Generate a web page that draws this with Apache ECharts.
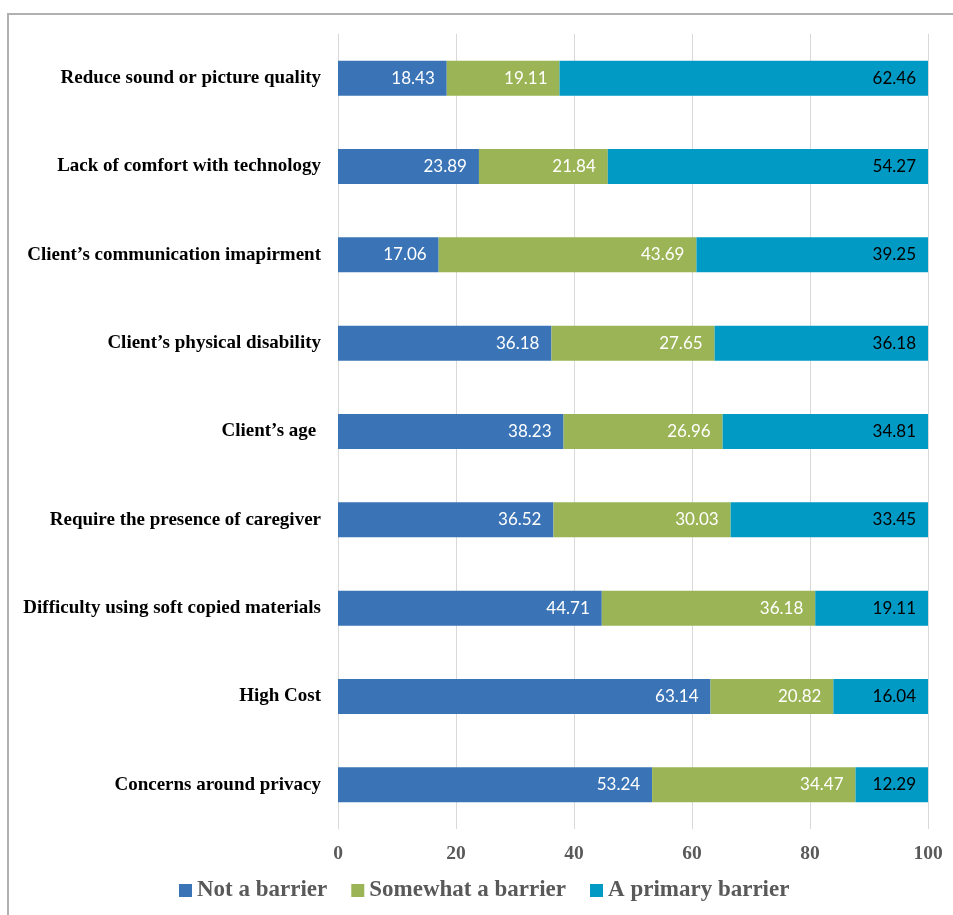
<!DOCTYPE html>
<html><head><meta charset="utf-8">
<script src="https://cdn.jsdelivr.net/npm/echarts@6/dist/echarts.min.js"></script>
<style>html,body{margin:0;padding:0;background:#fff}#c{width:953px;height:915px}</style>
</head><body><div id="c"></div>
<script>
const categories = ["Concerns around privacy","High Cost","Difficulty using soft copied materials","Require the presence of caregiver","Client’s age ","Client’s physical disability","Client’s communication imapirment","Lack of comfort with technology","Reduce sound or picture quality"];
const notBarrier = [53.24,63.14,44.71,36.52,38.23,36.18,17.06,23.89,18.43];
const somewhatBarrier = [34.47,20.82,36.18,30.03,26.96,27.65,43.69,21.84,19.11];
const primaryBarrier = [12.29,16.04,19.11,33.45,34.81,36.18,39.25,54.27,62.46];
const seriesNames = ["Not a barrier","Somewhat a barrier","A primary barrier"];
const xTicks = [0,20,40,60,80,100];

const chart = echarts.init(document.getElementById('c'));
const serif = '"Liberation Serif", "DejaVu Serif", serif';
const sans = 'Lato, "Liberation Sans", sans-serif';
function mk(name, data, color, labelColor){
  return {name, type:'bar', stack:'total', data, barWidth:35,
    itemStyle:{color},
    label:{show:true, position:'insideRight', color:labelColor, fontFamily:sans, fontSize:17, distance:12,
      formatter:p=>p.value.toFixed(2)}};
}
chart.setOption({
  animation:false,
  graphic:[{type:'rect', shape:{x:8,y:14,width:960,height:920}, style:{fill:'none', stroke:'#b0b0b0', lineWidth:2}}],
  grid:{left:338, right:25, top:34, bottom:86, containLabel:false},
  legend:{data:seriesNames, bottom:8, left:174, itemWidth:13, itemHeight:13, itemGap:24,
    icon:'rect', textStyle:{fontFamily:serif, fontWeight:'bold', fontSize:23, color:'#595959'}},
  xAxis:{type:'value', min:0, max:100, interval:20,
    axisLine:{show:false}, axisTick:{show:false},
    splitLine:{show:true, lineStyle:{color:'#d9d9d9', width:1}},
    axisLabel:{fontFamily:serif, fontWeight:'bold', fontSize:19.5, color:'#595959', margin:15,
      formatter:v=>xTicks.includes(v)?String(v):''}},
  yAxis:{type:'category', data:categories,
    axisLine:{show:true, lineStyle:{color:'#d9d9d9'}}, axisTick:{show:false},
    axisLabel:{fontFamily:serif, fontWeight:'bold', fontSize:19, color:'#000', margin:17}},
  series:[mk(seriesNames[0], notBarrier, '#3a74b7', '#ffffff'),
          mk(seriesNames[1], somewhatBarrier, '#9bb455', '#ffffff'),
          mk(seriesNames[2], primaryBarrier, '#019ac5', '#000000')]
});
</script></body></html>
